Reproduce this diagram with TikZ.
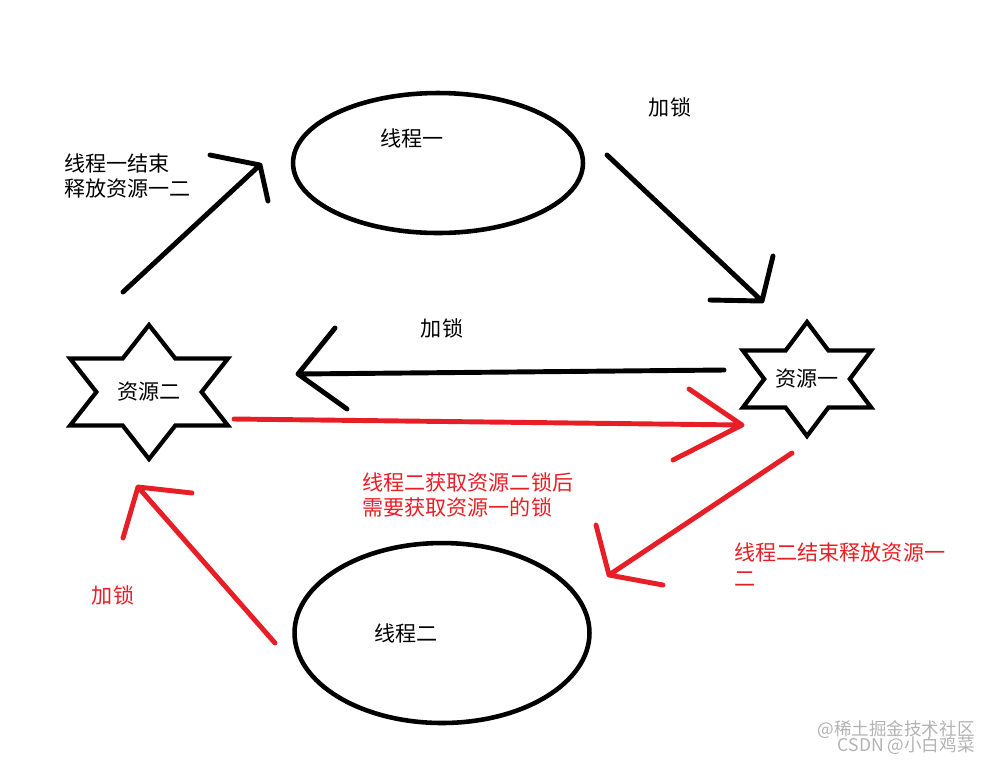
\documentclass[tikz,border=0pt]{standalone}
\usepackage{fontspec}
\newfontfamily\cjk{Noto Sans CJK SC}
\usetikzlibrary{shapes.geometric, positioning, calc}
\definecolor{PaintRed}{RGB}{232,30,38}
\definecolor{MarkGray}{RGB}{178,178,178}

% six-pointed resource star: [stretch], center, name, outer radius, text
\newcommand{\resstar}[5][1.36]{%
  \draw[starline,shift={#2},xscale=#1] plot[samples at={0,...,11},variable=\k]
    ({#4*(1-0.4226*isodd(\k))*cos(30*\k+90)},{#4*(1-0.4226*isodd(\k))*sin(30*\k+90)}) -- cycle;
  \node (#3) at #2 {#5};
}

\begin{document}
\begin{tikzpicture}[x=0.02cm,y=-0.02cm,
    every node/.style={font=\cjk\fontsize{12}{14.7}\selectfont,inner sep=0pt},
    thread/.style={draw,ellipse,line width=2.6pt},
    starline/.style={line width=2.4pt,line join=miter},
    handline/.style={line width=2.8pt,line cap=round,line join=round},
    lbl/.style={align=left,anchor=west}]
  \useasboundingbox (0,0) rectangle (989,762);

  % Threads
  \node[thread,minimum width=5.8cm,minimum height=2.8cm] (t1) at (438,163) {};
  \node at (412,138) {线程一};
  \node[thread,minimum width=5.9cm,minimum height=3.6cm] (t2) at (442,633) {};
  \node at (406,633) {线程二};

  % Resources
  \resstar{(149,392)}{r2}{67}{资源二}
  \resstar[1.3]{(807,379)}{r1}{57}{资源一}

  % Black arrows
  \coordinate (a1s) at (123,292);
  \coordinate (a1e) at (260,165);
  \draw[handline] (a1s) -- (a1e) -- ++(-50,-10) (a1e) -- ++(8,36);
  \coordinate (a2s) at (607,155);
  \coordinate (a2e) at (762,301);
  \draw[handline] (a2s) -- (a2e) -- ++(11,-45) (a2e) -- ++(-52,-1);
  \coordinate (a3s) at (724,370);
  \coordinate (a3e) at (298,374);
  \draw[handline] (a3s) -- (a3e) -- ++(37,-46) (a3e) -- ++(49,35);

  % Red arrows
  \coordinate (a4s) at (234,419);
  \coordinate (a4e) at (742,425);
  \draw[handline,PaintRed] (a4s) -- (a4e) -- ++(-53,-36) (a4e) -- ++(-69,35);
  \coordinate (a5s) at (792,453);
  \coordinate (a5e) at (609,575);
  \draw[handline,PaintRed] (a5s) -- (a5e) -- ++(-13,-50) (a5e) -- ++(54,10);
  \coordinate (a6s) at (275,643);
  \coordinate (a6e) at (138,487);
  \draw[handline,PaintRed] (a6s) -- (a6e) -- ++(54,6) (a6e) -- ++(-15,51);

  % Labels
  \node[lbl] (done1) at (64,176) {线程一结束\\释放资源一二};
  \node (lock1) at (670,107) {加锁};
  \node (lock2) at (442,328) {加锁};
  \node[lbl,text=PaintRed] (need) at (362,495) {线程二获取资源二锁后\\需要获取资源一的锁};
  \node[lbl,text=PaintRed] (done2) at (734,565) {线程二结束释放资源一\\二};
  \node[text=PaintRed] (lock3) at (113,595) {加锁};

  % Watermark
  \node[anchor=east,text=MarkGray,font=\cjk\fontsize{10}{12}\selectfont] (wm1) at (975,730) {@稀土掘金技术社区};
  \node[anchor=east,text=MarkGray,font=\cjk\fontsize{10}{12}\selectfont] (wm2) at (975,746) {CSDN @小白鸡菜};
\end{tikzpicture}
\end{document}
